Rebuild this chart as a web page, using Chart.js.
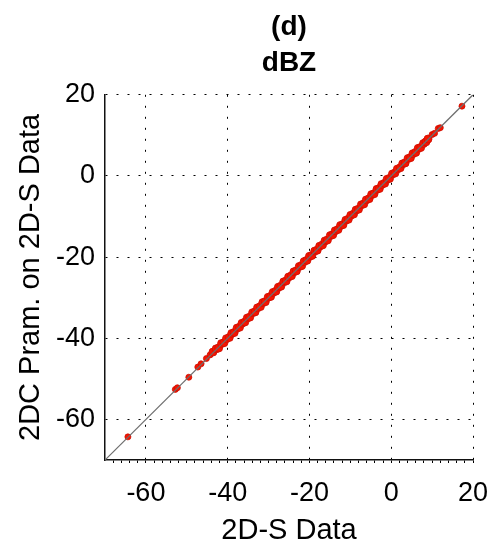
<!DOCTYPE html>
<html>
<head>
<meta charset="utf-8">
<script src="https://cdn.jsdelivr.net/npm/chart.js@4/dist/chart.umd.min.js"></script>
<style>
    html, body { margin: 0; padding: 0; background: #fff; }
    #wrap { width: 489px; height: 545px; position: relative; }
</style>
</head>
<body>
<div id="wrap"><canvas id="scatter-canvas"></canvas></div>
<script>
// Values
const titleLines = ['(d)', 'dBZ'];
const xAxisLabel = '2D-S Data';
const yAxisLabel = '2DC Pram. on 2D-S Data';
const axisMin = -70;
const axisMax = 20;
const xTickValues = [-60, -40, -20, 0, 20];
const yTickValues = [-60, -40, -20, 0, 20];
const minorStep = 2;

// 2D-S reflectivity (x) and 2DC parameterisation (y), dBZ
const s2dData = [
    -64.4, -52.8, -52.3, -49.5, -47.3, -46.5, -45.2, -44.3, -43.6,
    -42.8, -42.2, -41.5, -40.9, -40.3, -39.6, -39.0, -38.4, -37.7, -37.1,
    -36.5, -35.8, -35.2, -34.6, -33.9, -33.3, -32.7, -32.0, -31.4, -30.8,
    -30.1, -29.5, -28.9, -28.2, -27.6, -27.0, -26.3, -25.7, -25.1, -24.4,
    -23.8, -23.2, -22.5, -21.9, -21.3, -20.6, -20.0, -19.4, -18.7, -18.1,
    -17.5, -16.8, -16.2, -15.6, -14.9, -14.3, -13.7, -13.0, -12.4, -11.8,
    -11.1, -10.5, -9.9, -9.2, -8.6, -8.0, -7.3, -6.7, -6.1, -5.4,
    -4.8, -4.2, -3.5, -2.9, -2.3, -1.6, -1.0, -0.4, 0.3, 0.9,
    1.5, 2.2, 2.8, 3.4, 4.1, 4.7, 5.3, 6.0, 6.6, 7.2,
    7.9, 8.5, 9.0, 10.0, 10.6, 11.5, 12.0, 17.3
];
const c2dParam = [
    -64.3, -52.6, -52.2, -49.6, -47.1, -46.3, -45.0, -44.1, -43.4,
    -42.6, -42.4, -41.3, -41.1, -40.1, -39.8, -38.8, -38.6, -37.5, -37.3,
    -36.3, -36.0, -35.0, -34.8, -33.7, -33.5, -32.5, -32.2, -31.2, -31.0,
    -29.9, -29.7, -28.7, -28.4, -27.4, -27.2, -26.1, -25.9, -24.9, -24.6,
    -23.6, -23.4, -22.3, -22.1, -21.1, -20.8, -19.8, -19.6, -18.5, -18.3,
    -17.3, -17.0, -16.0, -15.8, -14.7, -14.5, -13.5, -13.2, -12.2, -12.0,
    -10.9, -10.7, -9.7, -9.4, -8.4, -8.2, -7.1, -6.9, -5.9, -5.6,
    -4.6, -4.4, -3.3, -3.1, -2.1, -1.8, -0.8, -0.6, 0.5, 0.7,
    1.7, 2.0, 3.0, 3.2, 4.3, 4.5, 5.5, 5.8, 6.8, 7.0,
    8.0, 8.4, 9.1, 10.2, 10.5, 11.7, 11.9, 17.2
];

const oneToOne = [
    { x: axisMin, y: axisMin },
    { x: axisMax, y: axisMax }
];

const fontFamily = "'Liberation Sans', Arial, Helvetica, sans-serif";

document.addEventListener('DOMContentLoaded', function() {
    const points = s2dData.map((x, i) => ({ x: x, y: c2dParam[i] }));

    // x gets a tick every 2 dBZ (minor marks), labels only on the major ones
    const minorTicks = [];
    for (let v = axisMin + minorStep; v <= axisMax; v += minorStep) {
        minorTicks.push({ value: v });
    }
    const isMajorX = v => xTickValues.includes(v);

    // dense part of the cloud is fatter than the lone outliers
    const radiusFor = c => {
        const p = c.raw;
        return (p && p.x > -44 && p.x < 9.5) ? 4 : 3;
    };

    const ctx = document.getElementById('scatter-canvas').getContext('2d');
    new Chart(ctx, {
        type: 'scatter',
        data: {
            datasets: [{
                // 1:1 line, drawn on top of the points
                type: 'line',
                data: oneToOne,
                borderColor: '#6e6e6e',
                borderWidth: 1.2,
                pointRadius: 0,
                fill: false
            }, {
                data: points,
                backgroundColor: 'rgb(245, 20, 0)',
                borderColor: 'rgb(205, 15, 0)',
                borderWidth: 0.8,
                pointRadius: radiusFor
            }]
        },
        options: {
            responsive: true,
            maintainAspectRatio: false,
            animation: false,
            layout: {
                padding: 0
            },
            scales: {
                x: {
                    type: 'linear',
                    min: axisMin,
                    max: axisMax,
                    afterBuildTicks: s => { s.ticks = minorTicks.slice(); },
                    afterFit: s => {
                        s.height = 85;
                        // the "20" label may hang over the right edge a little
                        s.paddingLeft = 0;
                        s.paddingRight = 16;
                    },
                    ticks: {
                        autoSkip: false,
                        maxRotation: 0,
                        padding: 14,
                        color: '#000',
                        font: { family: fontFamily, size: 27 },
                        callback: v => isMajorX(v) ? String(v) : ''
                    },
                    grid: {
                        color: c => (c.tick && isMajorX(c.tick.value)) ? '#000' : 'rgba(0,0,0,0)',
                        lineWidth: 1,
                        drawTicks: true,
                        tickLength: 3,
                        tickColor: '#000',
                        tickBorderDash: []
                    },
                    border: { display: true, color: '#111', width: 1.5, dash: [2, 9] },
                    title: {
                        display: true,
                        text: xAxisLabel,
                        color: '#000',
                        font: { family: fontFamily, size: 29, lineHeight: 1 },
                        padding: { top: 0, bottom: 0 }
                    }
                },
                y: {
                    type: 'linear',
                    min: axisMin,
                    max: axisMax,
                    afterBuildTicks: s => { s.ticks = yTickValues.map(v => ({ value: v })); },
                    afterFit: s => { s.width = 105; },
                    ticks: {
                        autoSkip: false,
                        padding: 10,
                        color: '#000',
                        font: { family: fontFamily, size: 27 }
                    },
                    grid: {
                        color: '#000',
                        lineWidth: 1,
                        drawTicks: false
                    },
                    border: { display: true, color: '#111', width: 1.5, dash: [2, 9] },
                    title: {
                        display: true,
                        text: yAxisLabel,
                        color: '#000',
                        font: { family: fontFamily, size: 29, lineHeight: 1 },
                        padding: { top: 16, bottom: 0 }
                    }
                }
            },
            plugins: {
                legend: { display: false },
                tooltip: { enabled: false },
                title: {
                    display: true,
                    text: titleLines,
                    fullSize: false,
                    color: '#000',
                    font: { family: fontFamily, size: 28, weight: 'bold', lineHeight: 1.3 },
                    padding: { top: 9, bottom: 13 }
                }
            }
        }
    });
});
</script>
</body>
</html>
